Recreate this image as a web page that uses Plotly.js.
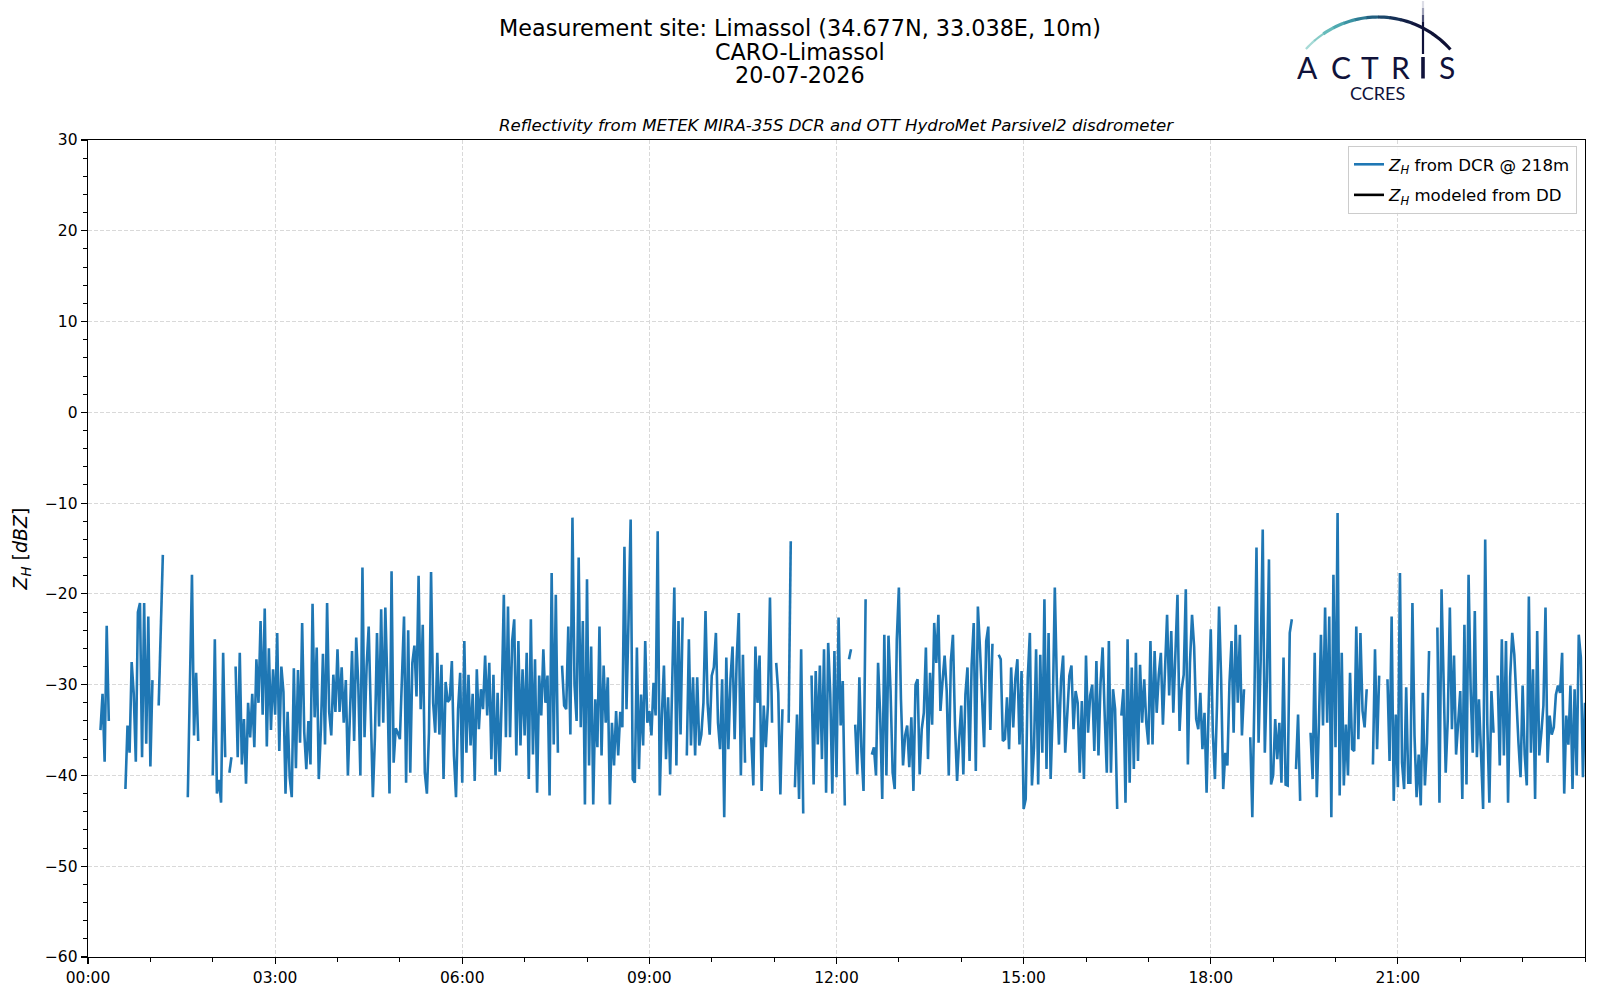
<!DOCTYPE html>
<html>
<head>
<meta charset="utf-8">
<script src="https://cdn.plot.ly/plotly-3.0.1.min.js"></script>
<style>html,body{margin:0;padding:0;background:#ffffff;}</style>
</head>
<body>
<div id="chart" style="width:1600px;height:1000px;"></div>
<script>
// ---------------- DATA ----------------
const dayLabel = '2026-07-20';
const nextDayLabel = '2026-07-21';
const stepMinutes = 2;

// Z_H from DCR @ 218m [dBZ], one value every 2 minutes from 00:00 (null = no data)
const zhDcr = [
  // 00:00
  null,null,null,null,null,null,-35,-31,-38.5,-23.5,-34,null,null,null,null,null,null,null,-41.5,-34.5,-37.5,-27.5,-31,-38.5,-22,-21,-38,-21,-36.5,-22.5,
  // 01:00
  -39,-29.5,null,null,-32.3,-25,-15.7,null,null,null,null,null,null,null,null,null,null,null,-42.4,-30.7,-17.9,-35.6,-28.7,-36.2,null,null,null,null,null,null,
  // 02:00
  -40,-25,-42,-40.5,-43,-26.5,-38,null,-39.7,-38,null,-28,-38,-26.5,-38.8,-33.8,-40.9,-32,-35.8,-31,-36.9,-27.2,-32,-23,-33.3,-21.6,-36.8,-26,-35,-28.3,
  // 03:00
  -33.3,-24.3,-37.3,-28,-30.8,-42,-33,-40.2,-42.4,-28.2,-39.2,-28.4,-36.4,-23.2,-35.2,-39.3,-34,-38.8,-21.1,-33.6,-25.9,-40.4,-35,-26.6,-36.6,-21,-33,-35.6,-28.9,-33,
  // 04:00
  -26.1,-33,-28.1,-34.2,-29.5,-40,-33.4,-26.3,-36.2,-24.8,-30,-40,-17.1,-35.8,-28,-23.6,-33,-42.4,-35.8,-24.3,-34.6,-21.7,-34.2,-21.5,-30,-42,-17.5,-38.6,-34.8,-35.3,
  // 05:00
  -36,-29.2,-22.5,-40.8,-24,-39.7,-27.6,-25.7,-31.3,-18,-32.7,-23.4,-39.7,-42,-35.3,-17.6,-32,-35.3,-26.5,-35.5,-27.8,-40.4,-29.7,-31.9,-31.6,-27.4,-37.8,-42.4,-32.7,-28.7,
  // 06:00
  -40.8,-25.2,-37.5,-28.9,-36.7,-31,-40.6,-28.3,-34.9,-30.5,-32.7,-26.8,-33.4,-27.6,-38.2,-28.9,-40,-30.9,-39.6,-31.4,-20.1,-35.8,-21.4,-35.8,-25.2,-22.8,-37.8,-25.2,-36.7,-28.3,
  // 07:00
  -35.6,-26.5,-40.4,-22.8,-37.7,-27.2,-41.9,-29,-33.4,-26.1,-32,-29,-42.2,-17.7,-36.6,-20.1,-37.5,null,-27.9,-32.3,-32.7,-23.6,-35.5,-11.6,-30,-34,-16,-34.7,-23,-43.2,
  // 08:00
  -18.4,-38.9,-25.8,-43.2,-31.6,-36.9,-23.6,-37.8,-27.9,-34.2,-29.2,-43.2,-34.2,-38.9,-32.9,-37.8,-33,-34.7,-14.8,-32.7,-22.6,-11.8,-40.4,-40.8,-25.9,-39.3,-31.1,-36.7,-25.2,-34.2,
  // 09:00
  -32.9,-35.6,-29.8,-33.4,-13.1,-42.2,-33.4,-27.9,-38.2,-31.4,-39.9,-28.3,-19.3,-38.9,-23,-35.5,-22.6,null,-37.8,-25,-36.7,-29.2,-37.8,-29.2,-36.7,-35.5,-32,-21.9,-32,-35.5,
  // 10:00
  -29,-28.1,-24.3,-34.2,-37.1,-29.4,-44.6,-27,-37.1,-29.4,-25.8,-36,-27.2,-22.1,-40,-26.7,-38.6,null,null,-35.8,-41.1,-25.8,-32,-26.8,-41.7,-32.3,-36.9,-32.3,-20.4,-34.2,
  // 11:00
  null,-27.6,-30.9,-42.1,-32.7,null,null,-34.2,-14.2,null,-41.3,-33.3,-42.6,-26.1,-44.2,null,null,null,-29,-41,-28.5,-36.6,-27.9,-38.2,-26.1,-41.9,-25.4,-31,-42,-26.3,
  // 12:00
  -40.2,-22.6,-34.5,-29.6,-43.3,null,-27.2,-26.1,null,-34.4,-39.9,-29.2,-37.3,-41.7,-20.6,null,null,-37.7,-36.9,-40,-27.6,-33.3,-42.6,-24.5,-40,-24.6,-30.7,-39.7,-41.5,-25,
  // 13:00
  -19.3,-31.6,-38.9,-35.6,-34.5,-39.1,-33.6,-41.7,-30,-29.4,-39.9,-34.9,-33.1,-25.9,-38.2,-28.7,-34.4,-23.2,-27.6,-22.3,-32.9,-29.6,-26.8,-30.7,-40,-27.4,-24.5,-34.5,-40.6,-36,
  // 14:00
  -32.3,-39.9,-31.1,-28.1,-38.4,-27.8,-23.2,-39.5,-21.4,-26,-32.3,-36.9,-25.2,-23.6,-35,-25.5,null,null,-26.7,-27.2,-36.2,-36,-31.4,-37.1,-28.1,-34.7,-29.4,-27.2,-36.6,-28.5,
  // 15:00
  -43.7,-42.6,-29.2,-24.3,-41.1,-36.9,-26.1,-41,-26.7,-37.5,-20.6,-39.3,-24.3,-40.4,-32.9,-19.3,-30,-36.6,-29.4,-26.8,-37.5,-33.1,-29,-27.9,-34.9,-30.7,-32,-39.7,-31.8,-40.4,
  // 16:00
  -26.8,-35.3,-31.2,-30,-37.3,-27.4,-37.8,-29.8,-25.9,-33.4,-39.7,-25.2,-39.7,-30.5,-32.7,-43.7,null,-33.4,-30.5,-43,-25,-40.8,-28.1,-39.3,-26.5,-38.4,-27.8,-34.2,-29.4,-34.2,
  // 17:00
  -36.6,-25.2,-36.6,-26.3,-33.1,-28.9,-26.5,-34.4,-27.9,-22.3,-31.2,-24.1,-33.1,-25.8,-20.1,-35.1,-30.5,-28.9,-19.5,-38.8,-27.6,-22.3,-25.8,-33.8,-34.9,-30.9,-37.1,-33.1,-41.9,-32.3,
  // 18:00
  -23.9,-35.3,-40.4,-32.3,-21.4,-29.4,-41.5,-37.5,-38.9,-29.8,-25.2,-35.3,-23.4,-32,-24.5,-35.6,-30.5,null,null,-35.8,-44.6,-31.4,-14.9,-36.4,-27.4,-12.9,-37.5,-29.4,-16.2,-41,
  // 19:00
  -40,-33.8,-38.2,-34.2,-40.8,-27,-41,-41.1,-24.3,-22.8,null,-39.3,-33.3,-42.8,null,null,null,null,-35.3,-40.4,-26.5,-42.4,-34.5,-24.5,-34.5,-21.5,-34.2,-22.5,-44.6,-17.9,
  // 20:00
  -36.9,-11.1,-42.2,-26.5,-41.1,-34.4,-40,-28.7,-37.1,-37.3,-23.6,-36,-24.3,-32.9,-34.7,-30.5,null,null,-38.8,-26.1,-37.1,-29,null,null,null,-29.4,-38.4,-22.5,-42.8,-33.3,
  // 21:00
  -41.3,-17.7,-38.6,-41.5,-30.3,-40.8,-40.8,-21,-35.6,-42.4,-37.7,-43.3,-30.9,-41.1,-36.4,-26.3,null,null,null,-23.7,-43,-19.5,-28.5,-39.7,-33.8,-21.5,-34.9,-26.8,-37.7,-34,
  // 22:00
  -30.7,-42.6,-23.4,-41,-17.9,-30.5,-37.5,-21.9,-38,-31.6,-38.4,-43.7,-14,-34.2,-43,-30.7,-35.3,null,-29,-38.9,-25,-37.8,-25.2,-43,-29.2,-24.3,-26.7,-32,-36.4,-40.2,
  // 23:00
  -30.1,-37.7,-41.1,-20.3,-37.5,-28.3,-42.6,-24.1,-37.8,-35.3,-32.3,-21.5,-38.6,-33.4,-35.5,-34.7,-31.1,-30.1,-30.9,-26.5,-42,-33.4,-36.6,-30.1,-41.5,-30.5,-40,-24.5,-27,-40.2,
  // 24:00
  -32
];

// Z_H modeled from the disdrometer: no valid value on this day
const zhModeled = [null];

const xTickLabels = ['00:00','03:00','06:00','09:00','12:00','15:00','18:00','21:00'];
const yTickVals = [-60,-50,-40,-30,-20,-10,0,10,20,30];

const titleLines = ['Measurement site: Limassol (34.677N, 33.038E, 10m)', 'CARO-Limassol', '20-07-2026'];
const subTitle = 'Reflectivity from METEK MIRA-35S DCR and OTT HydroMet Parsivel2 disdrometer';
const seriesNames = ['<i>Z</i><sub><i>H</i></sub> from DCR @ 218m', '<i>Z</i><sub><i>H</i></sub> modeled from DD'];
const logoLetters = ['A','C','T','R','S'];

// ---------------- BUILD ----------------
function pad(n){ return (n < 10 ? '0' : '') + n; }
function stamp(totalMin){
  const day = totalMin >= 1440 ? nextDayLabel : dayLabel;
  const m = totalMin % 1440;
  return day + ' ' + pad(Math.floor(m / 60)) + ':' + pad(m % 60);
}
const times = zhDcr.map((_, i) => stamp(i * stepMinutes));
const xTickVals = xTickLabels.map(l => dayLabel + ' ' + l);

const W = 1600, H = 1000;
const M = {l: 88, r: 15, t: 140, b: 43};
const PW = W - M.l - M.r, PH = H - M.t - M.b;
const px = x => (x - M.l) / PW;
const py = y => 1 - (y - M.t) / PH;

const navy = '#10123a';
const shapes = [];
// logo arc, gradient teal -> navy
const arcColors = ['#a6dad6','#86cbc7','#66bbbb','#4ea9b0','#3b93a3','#2d7a93','#225f80','#1b466a','#162f55','#121f45','#10163c','#0f1237','#0e1135','#0e1034'];
const cx = 1378, cy = 114, R = 97, a0 = -48, a1 = 48;
for (let s = 0; s < arcColors.length; s++) {
  const t0 = a0 + (a1 - a0) * s / arcColors.length;
  const t1 = a0 + (a1 - a0) * (s + 1) / arcColors.length + 0.3;
  let d = '';
  for (let k = 0; k <= 4; k++) {
    const a = (t0 + (t1 - t0) * k / 4) * Math.PI / 180;
    d += (k === 0 ? 'M ' : ' L ') + px(cx + R * Math.sin(a)).toFixed(5) + ',' + py(cy - R * Math.cos(a)).toFixed(5);
  }
  shapes.push({type: 'path', xref: 'paper', yref: 'paper', path: d,
    line: {color: arcColors[s], width: s < 2 ? 2.2 : 3.2}});
}
// logo vertical stroke (fading at top) and the I of ACTRIS
const vSeg = [[1, 8, '#dcdde6'], [8, 15, '#9fa2b8'], [15, 22, '#4b4f75'], [22, 54, navy]];
vSeg.forEach(v => shapes.push({type: 'line', xref: 'paper', yref: 'paper',
  x0: px(1423), x1: px(1423), y0: py(v[0]), y1: py(v[1]), line: {color: v[2], width: 2.2}}));
shapes.push({type: 'line', xref: 'paper', yref: 'paper', x0: px(1423), x1: px(1423),
  y0: py(57), y1: py(78.5), line: {color: navy, width: 3.6}});

const letterX = [1307, 1341, 1370, 1400, 1447];
const annotations = [
  {xref: 'paper', yref: 'paper', x: px(800), y: py(51.5), xanchor: 'center', yanchor: 'middle', showarrow: false,
   height: 21, text: titleLines[1], font: {family: 'DejaVu Sans', size: 22.3, color: '#000'}},
  {xref: 'paper', yref: 'paper', x: px(800), y: py(74.5), xanchor: 'center', yanchor: 'middle', showarrow: false,
   height: 21, text: titleLines[2], font: {family: 'DejaVu Sans', size: 22.3, color: '#000'}},
  {xref: 'paper', yref: 'paper', x: 0.5, y: 1, yanchor: 'bottom', yshift: 3, showarrow: false,
   text: '<i>' + subTitle + '</i>', font: {family: 'DejaVu Sans', size: 16.6, color: '#000'}},
  {xref: 'paper', yref: 'paper', x: px(1377), y: py(93), xanchor: 'center', yanchor: 'middle', showarrow: false,
   height: 16, text: 'CCRES', font: {family: 'Lato', size: 18, color: navy}}
];
logoLetters.forEach((L, i) => annotations.push({xref: 'paper', yref: 'paper', x: px(letterX[i]), y: py(67.5),
  xanchor: 'center', yanchor: 'middle', showarrow: false, height: 24, text: L,
  font: {family: 'Lato', size: 30, color: navy}}));

const traces = [
  {type: 'scatter', mode: 'lines', x: times, y: zhDcr, name: seriesNames[0], legendgroup: 'a',
   line: {color: '#1f77b4', width: 2.6}, connectgaps: false},
  {type: 'scatter', mode: 'lines', x: zhModeled.map((_, i) => stamp(i * stepMinutes)), y: zhModeled,
   name: seriesNames[1], legendgroup: 'b', line: {color: '#000000', width: 2.6}, showlegend: true}
];

const gridColor = '#d9d9d9';
const layout = {
  width: W, height: H,
  margin: M,
  paper_bgcolor: '#ffffff', plot_bgcolor: '#ffffff',
  font: {family: 'DejaVu Sans', size: 15.5, color: '#000'},
  title: {text: titleLines[0], x: 0.5, xref: 'container', xanchor: 'center',
          y: 1 - 28.5 / H, yref: 'container', yanchor: 'middle', font: {family: 'DejaVu Sans', size: 22.3, color: '#000'}},
  showlegend: true,
  legend: {x: px(1577), xanchor: 'right', y: py(146), yanchor: 'top', bgcolor: 'rgba(255,255,255,0.85)',
           bordercolor: '#cccccc', borderwidth: 1, font: {family: 'DejaVu Sans', size: 16.6, color: '#000'},
           traceorder: 'grouped', tracegroupgap: 6},
  xaxis: {type: 'date', range: [dayLabel + ' 00:00', nextDayLabel + ' 00:00'],
          tickmode: 'array', tickvals: xTickVals, ticktext: xTickLabels,
          ticks: 'outside', ticklen: 6, tickwidth: 1.2, tickcolor: '#000',
          showline: true, linecolor: '#000', linewidth: 1.3, mirror: true,
          showgrid: true, gridcolor: gridColor, gridwidth: 1, griddash: '4px,2px',
          zeroline: false, tickfont: {size: 15.5},
          minor: {tickmode: 'linear', tick0: dayLabel + ' 00:00', dtick: 3600000, ticks: 'outside',
                  ticklen: 3.5, tickwidth: 1, tickcolor: '#000', showgrid: false}},
  yaxis: {range: [-60, 30], tickmode: 'array', tickvals: yTickVals,
          ticks: 'outside', ticklen: 6, tickwidth: 1.2, tickcolor: '#000',
          showline: true, linecolor: '#000', linewidth: 1.3, mirror: true,
          showgrid: true, gridcolor: gridColor, gridwidth: 1, griddash: '4px,2px',
          zeroline: false, tickfont: {size: 15.5},
          title: {text: '<i>Z</i><sub><i>H</i></sub> [<i>dBZ</i>]', font: {size: 19}, standoff: 12},
          minor: {tickmode: 'linear', tick0: 0, dtick: 2, ticks: 'outside', ticklen: 3.5,
                  tickwidth: 1, tickcolor: '#000', showgrid: false}},
  shapes: shapes,
  annotations: annotations
};

Plotly.newPlot('chart', traces, layout, {displayModeBar: false, staticPlot: true});
</script>
</body>
</html>
